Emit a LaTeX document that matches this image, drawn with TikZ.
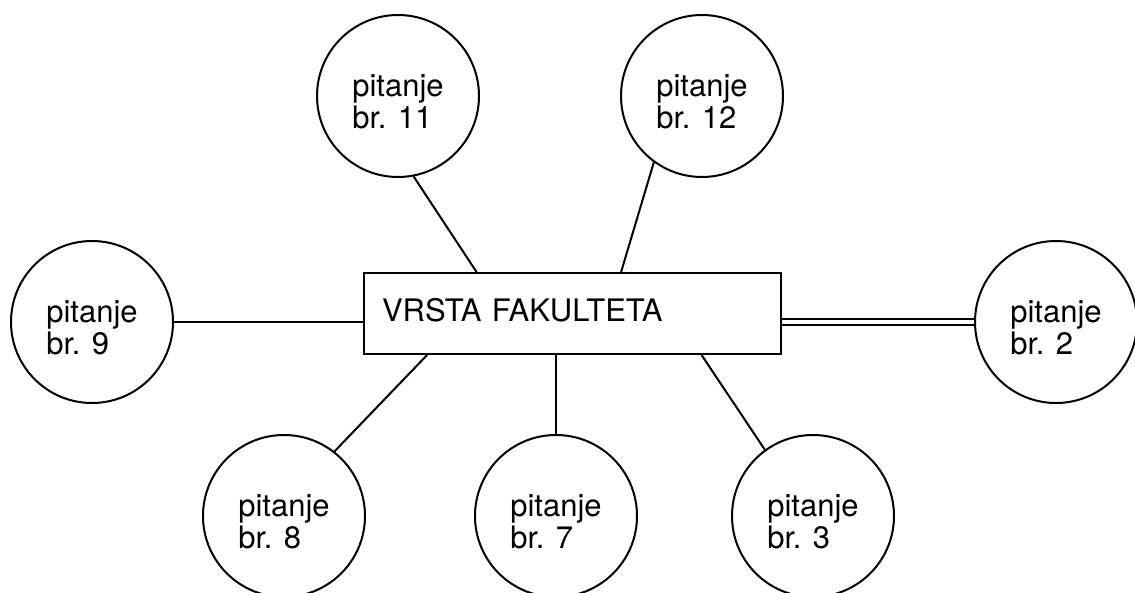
\documentclass[tikz,border=0pt]{standalone}
\usepackage{fontspec}
\setmainfont{TeX Gyre Heros}
\usetikzlibrary{calc}
\begin{document}
\begin{tikzpicture}[x=1pt,y=-1pt,
  q/.style={circle,draw,line width=2pt,minimum size=162pt,inner sep=0pt,
    align=left,font=\fontsize{31}{32}\selectfont,text height=66pt},
  box/.style={rectangle,draw,line width=2pt,minimum width=417pt,minimum height=81pt,
    inner xsep=18pt,text width=381pt,align=left,font=\fontsize{31}{32}\selectfont,text depth=8pt},
  conn/.style={line width=2pt},
  dbl/.style={line width=1.5pt,double,double distance=4.3pt}]
\useasboundingbox (0,0) rectangle (1135,593);
\node[box] (r) at (572.5,313.5) {VRSTA FAKULTETA};
\node[q] (c11) at (398,96) {pitanje\\br. 11};
\node[q] (c12) at (702,96) {pitanje\\br. 12};
\node[q] (c9) at (92,322) {pitanje\\br. 9};
\node[q] (c2) at (1056,322) {pitanje\\br. 2};
\node[q] (c8) at (284,516) {pitanje\\br. 8};
\node[q] (c7) at (556,516) {pitanje\\br. 7};
\node[q] (c3) at (813,516) {pitanje\\br. 3};
\draw[conn] (c11.-79.5) -- ($(r.north west)!0.271!(r.north east)$);
\draw[conn] (c12.-126.7) -- ($(r.north west)!0.616!(r.north east)$);
\draw[conn] (c9.east) -- (c9.east -| r.west);
\draw[dbl] (c2.west) -- (c2.west -| r.east);
\draw[conn] (c8.52.9) -- ($(r.south west)!0.153!(r.south east)$);
\draw[conn] (c7.north) -- (c7.north |- r.south);
\draw[conn] (c3.126.3) -- ($(r.south west)!0.808!(r.south east)$);
\end{tikzpicture}
\end{document}
